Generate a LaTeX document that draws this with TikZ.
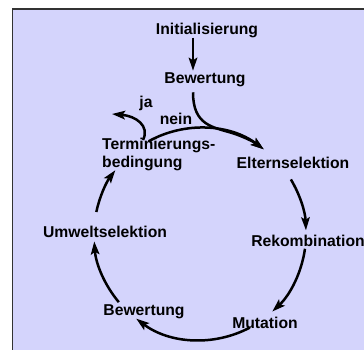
\documentclass[tikz,border=0pt]{standalone}
\usepackage{fontspec}
\setmainfont{Liberation Sans}
\usetikzlibrary{arrows.meta,calc}
\definecolor{bg}{RGB}{212,212,252}
\begin{document}
\begin{tikzpicture}[x=1pt,y=-1pt,
  lbl/.style={font=\fontsize{15.7}{18}\selectfont\bfseries, inner sep=0pt},
  arr/.style={line width=2.5pt, -{Stealth[length=13pt,width=8.5pt,inset=2.5pt]}}]
\useasboundingbox (0,0) rectangle (364,350);
\clip (0,0) rectangle (364,350);
\draw[fill=bg, draw=black!80, line width=1.6pt] (12.5,9) rectangle (390,380);
\coordinate (C) at (200,234);
% labels
\node[lbl] (init) at (207,30) {Initialisierung};
\node[lbl] (bew1) at (205,80) {Bewertung};
\node[lbl] (elt) at (293,163) {Elternselektion};
\node[lbl] (rek) at (308,241) {Rekombination};
\node[lbl] (mut) at (265,323) {Mutation};
\node[lbl] (bew2) at (144,312) {Bewertung};
\node[lbl] (umw) at (105,232) {Umweltselektion};
\node[lbl, align=left, anchor=west] (term) at (102,154) {Terminierungs-\\bedingung};
\node[lbl] (ja) at (146,103) {ja};
\node[lbl] (nein) at (176,119) {nein};
% coordinates
\coordinate (i1) at ([xshift=-14pt]init.south);
\coordinate (i2) at ([xshift=-12pt,yshift=2pt]bew1.north);
\coordinate (b1) at ([xshift=-12pt,yshift=-5pt]bew1.south);
\coordinate (jaS) at (143,140);
\coordinate (jaE) at (112,114);
% connectors
\draw[arr] (i1) -- (i2);
\draw[arr] (b1) .. controls (193,125) and (212,127) .. ($(C)+(-72:106)$) arc[start angle=-72,end angle=-53,radius=106];
\draw[arr] ($(C)+(-119:106)$) arc[start angle=-119,end angle=-53,radius=106];
\draw[arr] ($(C)+(-31:106)$) arc[start angle=-31,end angle=-2,radius=106];
\draw[arr] ($(C)+(8:106)$) arc[start angle=8,end angle=47,radius=106];
\draw[arr] ($(C)+(62:106)$) arc[start angle=62,end angle=127,radius=106];
\draw[arr] ($(C)+(140:106)$) arc[start angle=140,end angle=176,radius=106];
\draw[arr] ($(C)+(192:106)$) arc[start angle=192,end angle=217,radius=106];
\draw[arr] (jaS) .. controls (150,126) and (136,116) .. (jaE);
\end{tikzpicture}
\end{document}
